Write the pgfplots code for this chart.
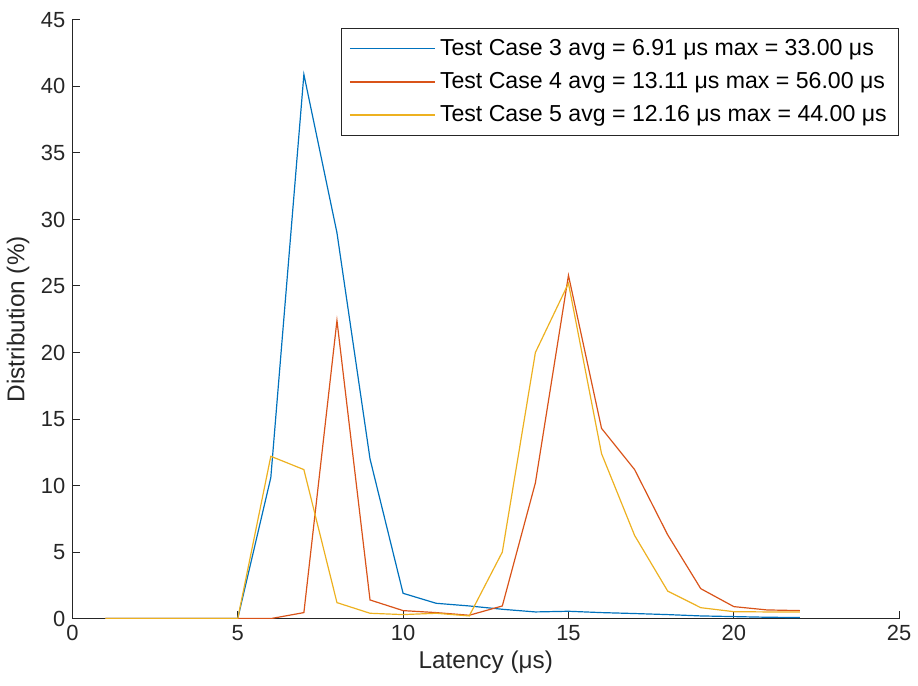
\documentclass[border=0pt]{standalone}
\usepackage{fontspec}
\setmainfont{Liberation Sans}
\usepackage{pgfplots}
\pgfplotsset{compat=1.18}
\definecolor{mblue}{rgb}{0,0.447,0.741}
\definecolor{mred}{rgb}{0.85,0.325,0.098}
\definecolor{myellow}{rgb}{0.929,0.694,0.125}
\definecolor{axgray}{rgb}{0.15,0.15,0.15}
\begin{document}
\begin{tikzpicture}
\begin{axis}[
  name=ax,
  scale only axis,
  width=415pt, height=300.5pt,
  xmin=0, xmax=25, ymin=0, ymax=45,
  xtick={0,5,...,25}, ytick={0,5,...,45},
  axis lines=left,
  axis line style={axgray, line width=0.5pt, -},
  tick style={axgray, line width=0.5pt},
  tick align=inside,
  major tick length=4pt,
  tick label style={font=\fontsize{11}{13}\selectfont, text=axgray},
  /pgf/number format/assume math mode=true,
  label style={font=\fontsize{12.2}{14}\selectfont, text=axgray},
  xlabel={Latency (μs)}, ylabel={Distribution (\%)},
  xlabel style={yshift=2pt},
  ylabel style={yshift=-1pt},
  legend style={at={(1,1)}, yshift=-4pt, anchor=north east, draw=axgray, line width=0.5pt,
    font=\fontsize{11.6}{14}\selectfont, inner xsep=4pt, inner ysep=3.5pt, row sep=3pt,
    cells={anchor=west}},
  legend image code/.code={\draw[#1] (0pt,0pt) -- (43pt,0pt);},
]
\addplot[color=mblue, line width=0.6pt] coordinates {
(1,0) (2,0) (3,0) (4,0) (5,0) (6,10.6) (7,40.9) (8,29.0) (9,12.0) (10,1.9)
(11,1.15) (12,0.95) (13,0.7) (14,0.5) (15,0.55) (16,0.45) (17,0.38) (18,0.3)
(19,0.2) (20,0.15) (21,0.1) (22,0.08)};
\addlegendentry{Test Case 3 avg = 6.91 μs max = 33.00 μs}
\addplot[color=mred, line width=0.6pt] coordinates {
(1,0) (2,0) (3,0) (4,0) (5,0) (6,0) (7,0.45) (8,22.4) (9,1.4) (10,0.6)
(11,0.45) (12,0.25) (13,0.95) (14,10.2) (15,25.8) (16,14.3) (17,11.2) (18,6.3)
(19,2.25) (20,0.9) (21,0.65) (22,0.6)};
\addlegendentry{Test Case 4 avg = 13.11 μs max = 56.00 μs}
\addplot[color=myellow, line width=0.6pt] coordinates {
(1,0) (2,0) (3,0) (4,0) (5,0) (6,12.2) (7,11.2) (8,1.2) (9,0.4) (10,0.3)
(11,0.4) (12,0.2) (13,5.0) (14,20.0) (15,25.2) (16,12.4) (17,6.25) (18,2.07)
(19,0.82) (20,0.52) (21,0.5) (22,0.5)};
\addlegendentry{Test Case 5 avg = 12.16 μs max = 44.00 μs}
\end{axis}
\path (ax.south west) ++(-35pt,-33.5pt) coordinate (bl);
\path (ax.north east) ++(9pt,10pt) coordinate (tr);
\end{tikzpicture}
\end{document}
